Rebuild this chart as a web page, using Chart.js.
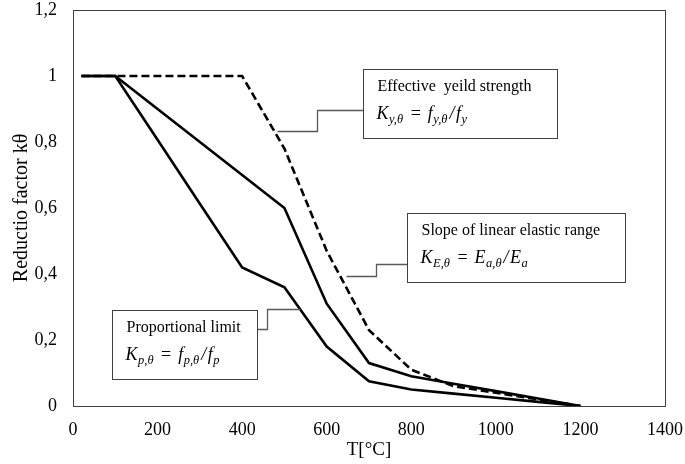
<!DOCTYPE html>
<html>
<head>
<meta charset="utf-8">
<script src="https://cdn.jsdelivr.net/npm/chart.js@4.4.1/dist/chart.umd.min.js"></script>
<style>
    html, body { margin: 0; padding: 0; background: #ffffff; }
    #wrap { width: 685px; height: 464px; }
</style>
</head>
<body>
<div id="wrap"><canvas id="reduction" width="685" height="464"></canvas></div>
<script>
// temperatures (°C) and reduction factors
const temps = [20, 100, 200, 300, 400, 500, 600, 700, 800, 900, 1000, 1100, 1200];
const yieldStrength = [1, 1, 1, 1, 1, 0.78, 0.47, 0.23, 0.11, 0.06, 0.04, 0.02, 0];
const elasticSlope = [1, 1, 0.9, 0.8, 0.7, 0.6, 0.31, 0.13, 0.09, 0.0675, 0.045, 0.0225, 0];
const propLimit = [1, 1, 0.807, 0.613, 0.42, 0.36, 0.18, 0.075, 0.05, 0.0375, 0.025, 0.0125, 0];

const xTicks = [0, 200, 400, 600, 800, 1000, 1200, 1400];
const yTicks = [0, 0.2, 0.4, 0.6, 0.8, 1, 1.2];

// label boxes with their callout leaders, in data units
const notes = [
    {
        title: 'Effective  yeild strength',
        formula: [['K', 'y,θ'], ['='], ['f', 'y,θ'], ['/'], ['f', 'y']],
        box: [686, 1.021, 1145, 0.812],
        leader: [[482, 0.833], [577, 0.833], [577, 0.897], [686, 0.897]]
    },
    {
        title: 'Slope of linear elastic range',
        formula: [['K', 'E,θ'], ['='], ['E', 'a,θ'], ['/'], ['E', 'a']],
        box: [790, 0.585, 1305, 0.376],
        leader: [[646, 0.394], [717, 0.394], [717, 0.430], [790, 0.430]]
    },
    {
        title: 'Proportional limit',
        formula: [['K', 'p,θ'], ['='], ['f', 'p,θ'], ['/'], ['f', 'p']],
        box: [92, 0.291, 435, 0.082],
        leader: [[435, 0.233], [459, 0.233], [459, 0.294], [537, 0.294]]
    }
];

const serif = '"Liberation Serif", "Times New Roman", serif';

const toPoints = (ys) => temps.map((t, i) => ({ x: t, y: ys[i] }));

// plot frame
const framePlugin = {
    id: 'frame',
    beforeDatasetsDraw(chart) {
        const { ctx, chartArea: a } = chart;
        ctx.save();
        ctx.strokeStyle = '#404040';
        ctx.lineWidth = 1;
        ctx.strokeRect(Math.round(a.left) + 0.5, Math.round(a.top) + 0.5,
            Math.round(a.right - a.left), Math.round(a.bottom - a.top));
        ctx.restore();
    }
};

// italic math-ish formula with subscripts
function drawFormula(ctx, x, y, parts) {
    let cx = x;
    ctx.textBaseline = 'middle';
    ctx.textAlign = 'left';
    parts.forEach(p => {
        if (p[0] === '=') {
            ctx.font = '18px ' + serif;
            cx += 7;
            ctx.fillText('=', cx, y);
            cx += ctx.measureText('=').width + 7;
            return;
        }
        if (p[0] === '/') {
            ctx.font = 'italic 18px ' + serif;
            cx += 1.5;
            ctx.fillText('/', cx, y);
            cx += ctx.measureText('/').width + 1.5;
            return;
        }
        ctx.font = 'italic 18px ' + serif;
        ctx.fillText(p[0], cx, y);
        cx += ctx.measureText(p[0]).width;
        if (p[1]) {
            ctx.font = 'italic 12.5px ' + serif;
            ctx.fillText(p[1], cx + 0.5, y + 5);
            cx += ctx.measureText(p[1]).width + 1;
        }
    });
}

const notesPlugin = {
    id: 'notes',
    afterDatasetsDraw(chart) {
        const { ctx } = chart;
        const sx = chart.scales.x, sy = chart.scales.y;
        ctx.save();
        notes.forEach(n => {
            // leader line
            ctx.strokeStyle = '#595959';
            ctx.lineWidth = 1.3;
            ctx.beginPath();
            n.leader.forEach((p, i) => {
                const px = Math.round(sx.getPixelForValue(p[0])) + 0.5;
                const py = Math.round(sy.getPixelForValue(p[1])) + 0.5;
                if (i === 0) ctx.moveTo(px, py); else ctx.lineTo(px, py);
            });
            ctx.stroke();

            // box
            const l = Math.round(sx.getPixelForValue(n.box[0])) + 0.5;
            const t = Math.round(sy.getPixelForValue(n.box[1])) + 0.5;
            const r = Math.round(sx.getPixelForValue(n.box[2])) + 0.5;
            const b = Math.round(sy.getPixelForValue(n.box[3])) + 0.5;
            ctx.fillStyle = '#ffffff';
            ctx.fillRect(l, t, r - l, b - t);
            ctx.strokeStyle = '#404040';
            ctx.lineWidth = 1;
            ctx.strokeRect(l, t, r - l, b - t);

            // text
            ctx.fillStyle = '#000000';
            ctx.font = '16px ' + serif;
            ctx.textBaseline = 'middle';
            ctx.textAlign = 'left';
            ctx.fillText(n.title, l + 14, t + 17);
            drawFormula(ctx, l + 13, t + 45, n.formula);
        });
        ctx.restore();
    }
};

const fmtComma = (v) => String(Math.round(v * 10) / 10).replace('.', ',');

new Chart(document.getElementById('reduction'), {
    type: 'line',
    data: {
        datasets: [
            {
                label: 'Effective yeild strength',
                data: toPoints(yieldStrength),
                borderColor: '#000000',
                borderWidth: 2.6,
                borderDash: [8, 4],
                pointRadius: 0,
                tension: 0
            },
            {
                label: 'Slope of linear elastic range',
                data: toPoints(elasticSlope),
                borderColor: '#000000',
                borderWidth: 2.6,
                pointRadius: 0,
                tension: 0
            },
            {
                label: 'Proportional limit',
                data: toPoints(propLimit),
                borderColor: '#000000',
                borderWidth: 2.6,
                pointRadius: 0,
                tension: 0
            }
        ]
    },
    options: {
        responsive: false,
        animation: false,
        layout: { padding: { top: 10, right: 20, left: 0, bottom: 0 } },
        plugins: {
            legend: { display: false },
            tooltip: { enabled: false }
        },
        scales: {
            x: {
                type: 'linear',
                min: 0,
                max: 1400,
                afterBuildTicks: (s) => { s.ticks = xTicks.map(v => ({ value: v })); },
                afterFit: (s) => { s.height = 58; s.paddingLeft = 0; s.paddingRight = 0; },
                grid: { display: false, drawTicks: false },
                border: { display: false },
                ticks: {
                    color: '#000000',
                    padding: 13,
                    maxRotation: 0,
                    font: { family: serif, size: 18 },
                    callback: (v) => String(v)
                },
                title: {
                    display: true,
                    text: 'T[°C]',
                    color: '#000000',
                    padding: { top: 0, bottom: 3 },
                    font: { family: serif, size: 19 }
                }
            },
            y: {
                min: 0,
                max: 1.2,
                afterBuildTicks: (s) => { s.ticks = yTicks.map(v => ({ value: v })); },
                afterFit: (s) => { s.width = 73; s.paddingTop = 0; s.paddingBottom = 0; },
                grid: { display: false, drawTicks: false },
                border: { display: false },
                ticks: {
                    color: '#000000',
                    padding: 16,
                    font: { family: serif, size: 18 },
                    callback: (v) => fmtComma(v)
                },
                title: {
                    display: true,
                    text: 'Reductio factor kθ',
                    color: '#000000',
                    padding: { top: 10, bottom: 0 },
                    font: { family: serif, size: 20 }
                }
            }
        }
    },
    plugins: [framePlugin, notesPlugin]
});
</script>
</body>
</html>
